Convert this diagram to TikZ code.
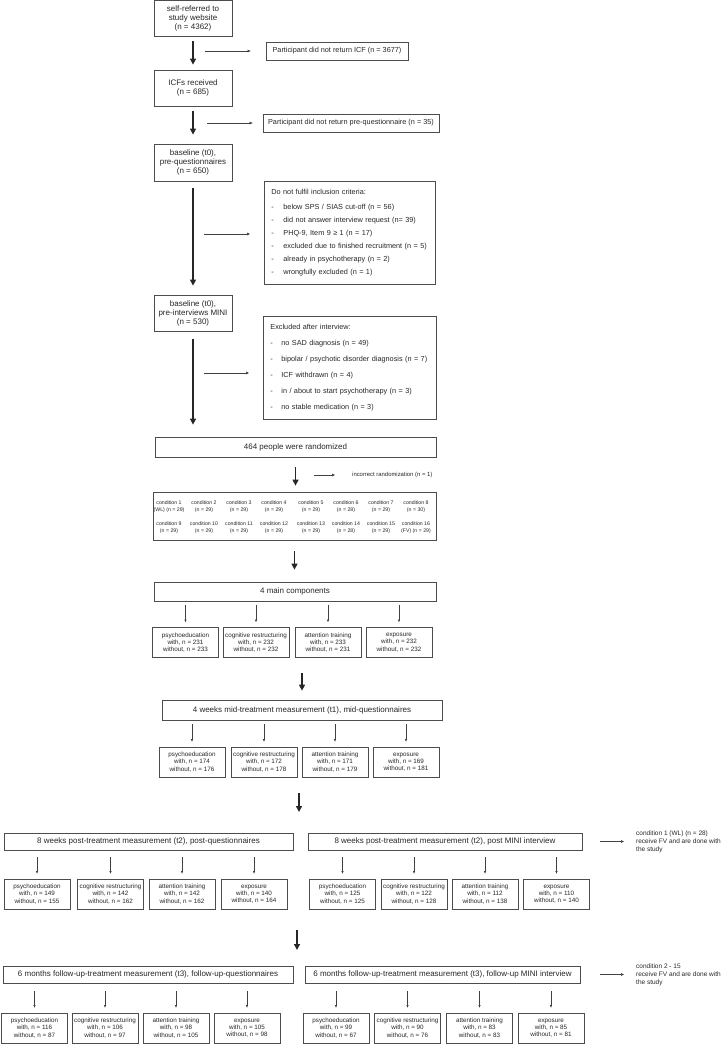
\documentclass[tikz,border=0pt]{standalone}
\usepackage{fontspec}
\setmainfont{Liberation Sans}
\usetikzlibrary{arrows.meta}

\begin{document}
\begin{tikzpicture}[x=1pt, y=-1pt,
		box/.style={draw=black!70, line width=0.8pt, align=center, inner sep=1pt, text=black!85},
		stagebox/.style={box, minimum width=78pt, minimum height=36pt, font=\fontsize{8}{9}\selectfont},
		lossbox/.style={box, minimum height=18pt, font=\fontsize{7.3}{9}\selectfont},
		listbox/.style={box, anchor=north west, align=left, inner xsep=7pt, minimum height=103pt, font=\fontsize{7.3}{13}\selectfont},
		widebox/.style={box, font=\fontsize{8}{10}\selectfont},
		armbox/.style={box, minimum width=66pt, minimum height=30pt, font=\fontsize{6.3}{7.3}\selectfont},
		condtext/.style={align=center, inner sep=0pt, text=black!85, font=\fontsize{5.2}{7}\selectfont},
		donetext/.style={anchor=west, align=left, inner sep=0pt, text=black!85, font=\fontsize{6.5}{8}\selectfont},
		bigarrow/.style={line width=1.4pt, draw=black!85, -{Triangle[length=6pt, width=6pt]}},
		thinarrow/.style={line width=0.6pt, draw=black!75, -{Triangle[length=3pt, width=2.6pt]}},
		armarrow/.style={line width=0.6pt, draw=black!75, -{Triangle[length=2.6pt, width=2.2pt]}, shorten <=4pt, shorten >=5pt}]
	
	\useasboundingbox (0,0) rectangle (726,1045);
	
	% screening
	\node[stagebox] (self) at (193,18.5) {self-referred to\\study website\\(n = 4362)};
	\node[stagebox] (icf) at (193,88) {ICFs received\\(n = 685)};
	\node[stagebox, minimum height=37pt] (base) at (193,162.5) {baseline (t0),\\pre-questionnaires\\(n = 650)};
	\node[stagebox] (mini) at (193,313) {baseline (t0),\\pre-interviews MINI\\(n = 530)};
	
	\node[lossbox, minimum width=142pt] (noicf) at (337,51) {Participant did not return ICF (n = 3677)};
	\node[lossbox, minimum width=176pt] (nopre) at (351,123) {Participant did not return pre-questionnaire (n = 35)};
	\node[listbox, text width=157pt] (incl) at (264,181) {Do not fulfil inclusion criteria:\\[2pt]
		\makebox[12pt][l]{-}below SPS / SIAS cut-off (n = 56)\\
		\makebox[12pt][l]{-}did not answer interview request (n= 39)\\
		\makebox[12pt][l]{-}PHQ-9, Item 9 ≥ 1 (n = 17)\\
		\makebox[12pt][l]{-}excluded due to finished recruitment (n = 5)\\
		\makebox[12pt][l]{-}already in psychotherapy (n = 2)\\
		\makebox[12pt][l]{-}wrongfully excluded (n = 1)};
	\node[listbox, text width=159pt, font=\fontsize{7.3}{16}\selectfont] (excl) at (263,316) {Excluded after interview:\\
		\makebox[11pt][l]{-}no SAD diagnosis (n = 49)\\
		\makebox[11pt][l]{-}bipolar / psychotic disorder diagnosis (n = 7)\\
		\makebox[11pt][l]{-}ICF withdrawn (n = 4)\\
		\makebox[11pt][l]{-}in / about to start psychotherapy (n = 3)\\
		\makebox[11pt][l]{-}no stable medication (n = 3)};
	
	% randomisation
	\node[widebox, minimum width=281pt, minimum height=20pt] (rand) at (295.5,447) {464 people were randomized};
	\node[condtext, anchor=west, font=\fontsize{5.9}{7}\selectfont] (wrong) at (352,475) {incorrect randomization (n = 1)};
	\node[box, minimum width=283pt, minimum height=48pt] (cond) at (294.5,516) {};
	
	\node[condtext] (c1) at (169,506.5) {condition 1\\(WL) (n = 29)};
	\node[condtext] (c2) at (204,506.5) {condition 2\\(n = 29)};
	\node[condtext] (c3) at (239,506.5) {condition 3\\(n = 29)};
	\node[condtext] (c4) at (274,506.5) {condition 4\\(n = 29)};
	\node[condtext] (c5) at (311,506.5) {condition 5\\(n = 29)};
	\node[condtext] (c6) at (346,506.5) {condition 6\\(n = 28)};
	\node[condtext] (c7) at (381,506.5) {condition 7\\(n = 29)};
	\node[condtext] (c8) at (416,506.5) {condition 8\\(n = 30)};
	\node[condtext] (c9) at (169,527.5) {condition 9\\(n = 29)};
	\node[condtext] (c10) at (204,527.5) {condition 10\\(n = 29)};
	\node[condtext] (c11) at (239,527.5) {condition 11\\(n = 29)};
	\node[condtext] (c12) at (274,527.5) {condition 12\\(n = 29)};
	\node[condtext] (c13) at (311,527.5) {condition 13\\(n = 29)};
	\node[condtext] (c14) at (346,527.5) {condition 14\\(n = 28)};
	\node[condtext] (c15) at (381,527.5) {condition 15\\(n = 29)};
	\node[condtext] (c16) at (416,527.5) {condition 16\\(FV) (n = 29)};
	
	% components
	\node[widebox, minimum width=282pt, minimum height=19pt] (main) at (295,591.5) {4 main components};
	\node[armbox] (pe1) at (185.5,642.5) {psychoeducation\\with, n = 231\\without, n = 233};
	\node[armbox] (cr1) at (256,642.5) {cognitive restructuring\\with, n = 232\\without, n = 232};
	\node[armbox] (at1) at (328,642.5) {attention training\\with, n = 233\\without, n = 231};
	\node[armbox] (ex1) at (399,642.5) {exposure\\with, n = 232\\without, n = 232};
	
	% t1
	\node[widebox, minimum width=280pt, minimum height=20pt] (mid) at (302,710) {4 weeks mid-treatment measurement (t1), mid-questionnaires};
	\node[armbox] (pe2) at (192,762) {psychoeducation\\with, n = 174\\without, n = 176};
	\node[armbox] (cr2) at (264,762) {cognitive restructuring\\with, n = 172\\without, n = 178};
	\node[armbox] (at2) at (335,762) {attention training\\with, n = 171\\without, n = 179};
	\node[armbox] (ex2) at (406,762) {exposure\\with, n = 169\\without, n = 181};
	
	% t2
	\node[widebox, minimum width=289pt, minimum height=17pt] (postq) at (148.5,841.5) {8 weeks post-treatment measurement (t2), post-questionnaires};
	\node[widebox, minimum width=274pt, minimum height=17pt] (postm) at (445,841.5) {8 weeks post-treatment measurement (t2), post MINI interview};
	\node[donetext] (done1) at (636,841.5) {condition 1 (WL) (n = 28)\\receive FV and are done with\\the study};
	\node[armbox] (pe3) at (37,894) {psychoeducation\\with, n = 149\\without, n = 155};
	\node[armbox] (cr3) at (110.5,894) {cognitive restructuring\\with, n = 142\\without, n = 162};
	\node[armbox] (at3) at (182,894) {attention training\\with, n = 142\\without, n = 162};
	\node[armbox] (ex3) at (254,894) {exposure\\with, n = 140\\without, n = 164};
	\node[armbox] (pe4) at (342.5,894) {psychoeducation\\with, n = 125\\without, n = 125};
	\node[armbox] (cr4) at (414,894) {cognitive restructuring\\with, n = 122\\without, n = 128};
	\node[armbox] (at4) at (485,894) {attention training\\with, n = 112\\without, n = 138};
	\node[armbox] (ex4) at (556.5,894) {exposure\\with, n = 110\\without, n = 140};
	
	% t3
	\node[widebox, minimum width=290pt, minimum height=17pt] (folq) at (148,974.5) {6 months follow-up-treatment measurement (t3), follow-up-questionnaires};
	\node[widebox, minimum width=275pt, minimum height=17pt] (folm) at (442.5,974.5) {6 months follow-up-treatment measurement (t3), follow-up MINI interview};
	\node[donetext] (done2) at (636,974.5) {condition 2 - 15\\receive FV and are done with\\the study};
	\node[armbox] (pe5) at (34.5,1028) {psychoeducation\\with, n = 116\\without, n = 87};
	\node[armbox] (cr5) at (105,1028) {cognitive restructuring\\with, n = 106\\without, n = 97};
	\node[armbox] (at5) at (176,1028) {attention training\\with, n = 98\\without, n = 105};
	\node[armbox] (ex5) at (247,1028) {exposure\\with, n = 105\\without, n = 98};
	\node[armbox] (pe6) at (336,1028) {psychoeducation\\with, n = 99\\without, n = 67};
	\node[armbox] (cr6) at (407.5,1028) {cognitive restructuring\\with, n = 90\\without, n = 76};
	\node[armbox] (at6) at (479.5,1028) {attention training\\with, n = 83\\without, n = 83};
	\node[armbox] (ex6) at (551,1028) {exposure\\with, n = 85\\without, n = 81};
	
	% main flow
	\draw[bigarrow, shorten <=4.5pt, shorten >=5pt] (self) -- (icf);
	\draw[bigarrow, shorten <=5pt, shorten >=9pt] (icf) -- (base);
	\draw[bigarrow, shorten <=7pt, shorten >=9pt] (base) -- (mini);
	\draw[bigarrow, shorten <=8pt, shorten >=12pt] (mini) -- (mini |- rand.north);
	\draw[bigarrow, shorten <=10pt, shorten >=6pt] (rand.south) -- (rand.south |- cond.north);
	\draw[bigarrow, shorten <=11pt, shorten >=12pt] (cond.south) -- (cond.south |- main.north);
	\draw[bigarrow, shorten <=15pt, shorten >=9pt] (cr1.south -| mid) -- (mid);
	\coordinate (split1) at (299,833);
	\draw[bigarrow, shorten <=16pt, shorten >=21pt] (at2.south -| split1) -- (split1);
	\coordinate (split2) at (297,966);
	\draw[bigarrow, shorten <=21pt, shorten >=16pt] (at3.south -| split2) -- (split2);
	
	% drop outs
	\coordinate (o1) at (205,51);
	\coordinate (o2) at (207,123);
	\coordinate (o3) at (204,234);
	\coordinate (o4) at (204,373);
	\coordinate (o5) at (314,475);
	\draw[thinarrow, shorten >=15pt] (o1) -- (noicf);
	\draw[thinarrow, shorten >=10pt] (o2) -- (nopre);
	\draw[thinarrow, shorten >=14pt] (o3) -- (o3 -| incl.west);
	\draw[thinarrow, shorten >=14pt] (o4) -- (o4 -| excl.west);
	\draw[thinarrow, shorten >=17pt] (o5) -- (wrong);
	\draw[thinarrow, shorten <=18pt, shorten >=12pt] (postm) -- (done1);
	\draw[thinarrow, shorten <=20pt, shorten >=12pt] (folm) -- (done2);
	
	% arms
	\draw[armarrow] (main.south -| pe1) -- (pe1);
	\draw[armarrow] (main.south -| cr1) -- (cr1);
	\draw[armarrow] (main.south -| at1) -- (at1);
	\draw[armarrow] (main.south -| ex1) -- (ex1);
	\draw[armarrow] (mid.south -| pe2) -- (pe2);
	\draw[armarrow] (mid.south -| cr2) -- (cr2);
	\draw[armarrow] (mid.south -| at2) -- (at2);
	\draw[armarrow] (mid.south -| ex2) -- (ex2);
	\draw[armarrow, shorten <=7pt] (postq.south -| pe3) -- (pe3);
	\draw[armarrow, shorten <=7pt] (postq.south -| cr3) -- (cr3);
	\draw[armarrow, shorten <=7pt] (postq.south -| at3) -- (at3);
	\draw[armarrow, shorten <=7pt] (postq.south -| ex3) -- (ex3);
	\draw[armarrow, shorten <=7pt] (postm.south -| pe4) -- (pe4);
	\draw[armarrow, shorten <=7pt] (postm.south -| cr4) -- (cr4);
	\draw[armarrow, shorten <=7pt] (postm.south -| at4) -- (at4);
	\draw[armarrow, shorten <=7pt] (postm.south -| ex4) -- (ex4);
	\draw[armarrow, shorten <=8pt] (folq.south -| pe5) -- (pe5);
	\draw[armarrow, shorten <=8pt] (folq.south -| cr5) -- (cr5);
	\draw[armarrow, shorten <=8pt] (folq.south -| at5) -- (at5);
	\draw[armarrow, shorten <=8pt] (folq.south -| ex5) -- (ex5);
	\draw[armarrow, shorten <=8pt] (folm.south -| pe6) -- (pe6);
	\draw[armarrow, shorten <=8pt] (folm.south -| cr6) -- (cr6);
	\draw[armarrow, shorten <=8pt] (folm.south -| at6) -- (at6);
	\draw[armarrow, shorten <=8pt] (folm.south -| ex6) -- (ex6);
	
\end{tikzpicture}
\end{document}
